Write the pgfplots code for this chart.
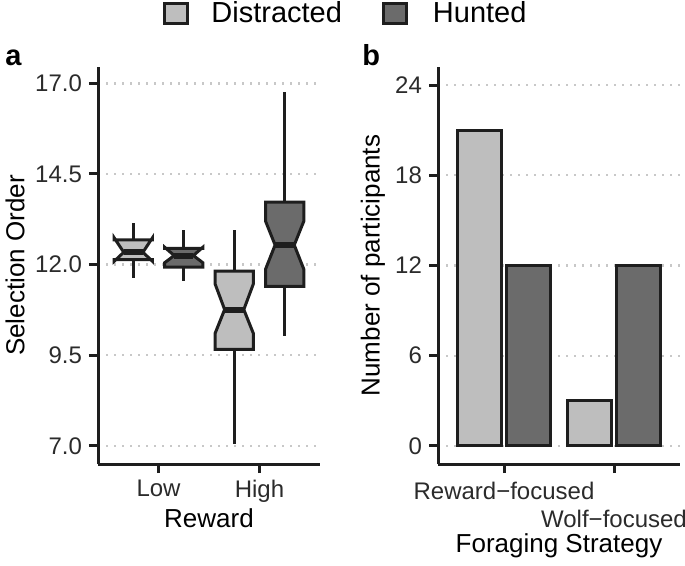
\documentclass[border=0pt]{standalone}
\usepackage{pgfplots}
\pgfplotsset{compat=1.18}
\usepackage{fontspec}
\setmainfont{Liberation Sans}
\definecolor{distr}{HTML}{BEBEBE}
\definecolor{hunt}{HTML}{6B6B6B}
\definecolor{edge}{HTML}{1E1E1E}
\definecolor{gridc}{HTML}{C8C8C8}
\definecolor{txt}{HTML}{2B2B2B}
\pgfplotsset{
  myax/.style={
    scale only axis,
    axis lines=left,
    axis line style={-, line width=1.5pt, edge},
    tick style={line width=1.5pt, edge},
    major tick length=4.5pt,
    tick align=outside,
    ymajorgrids,
    major grid style={gridc, line width=1.2pt, dash pattern=on 1.2pt off 2.8pt},
    no markers,
    xmin=0.4, xmax=2.6,
    xtick={1,2},
    ticklabel style={font=\fontsize{12}{14}\selectfont, text=txt},
    label style={font=\fontsize{13}{15}\selectfont, text=black},
  },
  bx/.style={draw=edge, line width=1.5pt, line join=miter, forget plot},
  wh/.style={edge, line width=1.5pt, forget plot},
  md/.style={edge, line width=3pt, forget plot},
}
\begin{document}
\begin{tikzpicture}
\useasboundingbox (0,0) rectangle (342.5pt,-283pt);
% ---------------- panel a ----------------
\begin{axis}[myax,
  at={(49pt,-232pt)}, anchor=south west,
  width=111pt, height=198.5pt,
  ymin=6.5, ymax=17.45,
  ytick={7,9.5,12,14.5,17},
  yticklabels={7.0,9.5,12.0,14.5,17.0},
  xticklabels={Low,High},
  xlabel={Reward},
  ylabel={Selection Order},
  xlabel style={at={(axis description cs:0.5,-0.161)}, anchor=base},
  ylabel style={at={(axis description cs:-0.374,0.5)}, anchor=center},
  extra description/.code={
    \node[font=\bfseries\fontsize{14.5}{16}\selectfont, anchor=base west, inner sep=0pt] at (axis description cs:-0.419,1.005) {a};
  },
]
% Low - Distracted
\addplot[wh] coordinates {(0.75,12.68) (0.75,13.14)};
\addplot[wh] coordinates {(0.75,12.14) (0.75,11.64)};
\addplot[bx, fill=distr] coordinates {(0.56,12.68) (0.56,12.74) (0.655,12.34) (0.56,12.09) (0.56,12.14) (0.94,12.14) (0.94,12.09) (0.845,12.34) (0.94,12.74) (0.94,12.68)} -- cycle;
\addplot[md] coordinates {(0.655,12.34) (0.845,12.34)};
% Low - Hunted
\addplot[wh] coordinates {(1.25,12.45) (1.25,12.96)};
\addplot[wh] coordinates {(1.25,11.93) (1.25,11.54)};
\addplot[bx, fill=hunt] coordinates {(1.06,12.45) (1.06,12.48) (1.155,12.25) (1.06,12.05) (1.06,11.93) (1.44,11.93) (1.44,12.05) (1.345,12.25) (1.44,12.48) (1.44,12.45)} -- cycle;
\addplot[md] coordinates {(1.155,12.25) (1.345,12.25)};
% High - Distracted
\addplot[wh] coordinates {(1.75,11.82) (1.75,12.95)};
\addplot[wh] coordinates {(1.75,9.66) (1.75,7.05)};
\addplot[bx, fill=distr] coordinates {(1.56,11.82) (1.56,11.47) (1.655,10.76) (1.56,10.10) (1.56,9.66) (1.94,9.66) (1.94,10.10) (1.845,10.76) (1.94,11.47) (1.94,11.82)} -- cycle;
\addplot[md] coordinates {(1.655,10.76) (1.845,10.76)};
% High - Hunted
\addplot[wh] coordinates {(2.25,13.72) (2.25,16.76)};
\addplot[wh] coordinates {(2.25,11.40) (2.25,10.02)};
\addplot[bx, fill=hunt] coordinates {(2.06,13.72) (2.06,13.20) (2.155,12.54) (2.06,11.87) (2.06,11.40) (2.44,11.40) (2.44,11.87) (2.345,12.54) (2.44,13.20) (2.44,13.72)} -- cycle;
\addplot[md] coordinates {(2.155,12.54) (2.345,12.54)};
\end{axis}
% ---------------- panel b ----------------
\begin{axis}[myax,
  at={(219pt,-232pt)}, anchor=south west,
  width=121pt, height=198.5pt,
  ymin=-1.2, ymax=25.2,
  ytick={0,6,12,18,24},
  yticklabels={0,6,12,18,24},
  xticklabels={{\strut Reward−focused},{\strut\\\strut Wolf−focused}},
  xticklabel style={align=center},
  xlabel={Foraging Strategy},
  ylabel={Number of participants},
  xlabel style={at={(axis description cs:0.5,-0.224)}, anchor=base},
  ylabel style={at={(axis description cs:-0.269,0.5)}, anchor=center},
  extra description/.code={
    \node[font=\bfseries\fontsize{14.5}{16}\selectfont, anchor=base west, inner sep=0pt] at (axis description cs:-0.314,1.005) {b};
  },
  legend columns=2,
  legend image code/.code={\draw[#1] (0pt,-5pt) rectangle (11.5pt,5pt);},
  legend style={at={(axis description cs:-1.161,1.135)}, anchor=west, draw=none, fill=none,
    font=\fontsize{14.5}{17}\selectfont, column sep=0pt},
]
\addplot[ybar, bar width=0.40, bar shift=-0.227, fill=distr, draw=edge, line width=1.5pt] coordinates {(1,21) (2,3)};
\addlegendentry{\rule{9pt}{0pt}Distracted\rule{18pt}{0pt}}
\addplot[ybar, bar width=0.40, bar shift=0.227, fill=hunt, draw=edge, line width=1.5pt] coordinates {(1,12) (2,12)};
\addlegendentry{\rule{10.5pt}{0pt}Hunted}
\end{axis}
\end{tikzpicture}
\end{document}
